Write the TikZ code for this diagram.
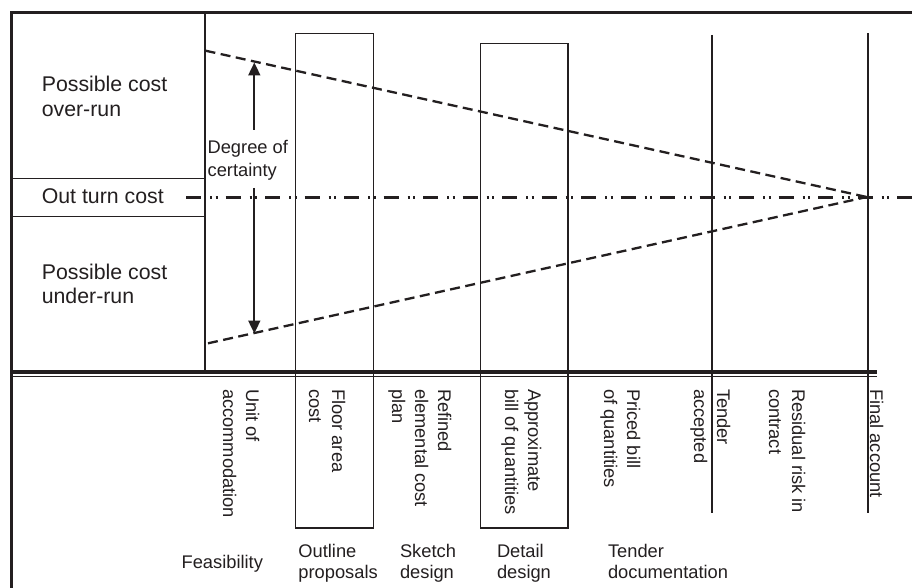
\documentclass[tikz,border=0pt]{standalone}
\usepackage{fontspec}
\setmainfont{Liberation Sans}
\usetikzlibrary{arrows.meta}
\definecolor{ink}{RGB}{35,31,32}
\begin{document}
\begin{tikzpicture}[x=1pt,y=-1pt,
  every node/.style={text=ink, inner sep=0pt, outer sep=0pt},
  frameline/.style={draw=ink, line width=3pt},
  thinline/.style={draw=ink, line width=1.5pt},
  markline/.style={draw=ink, line width=2.2pt},
  dashline/.style={draw=ink, line width=2.3pt, dash pattern=on 10pt off 5.5pt},
  axisline/.style={draw=ink, line width=2.3pt, dash pattern=on 15pt off 9pt on 2pt off 3.5pt on 2pt off 8pt},
  arrowline/.style={draw=ink, line width=1.8pt, -{Triangle[width=12pt,length=13pt]}},
  biglabel/.style={font=\fontsize{21.3}{24.5}\selectfont, align=left, anchor=base west},
  midlabel/.style={font=\fontsize{18.3}{22}\selectfont, align=left, anchor=base west},
  stagelabel/.style={font=\fontsize{18.3}{21}\selectfont, align=left, anchor=base west},
  rotlabel/.style={font=\fontsize{18.3}{23}\selectfont, align=left, anchor=base west, rotate=-90}]
\useasboundingbox (0,0) rectangle (912,588);
\fill[white] (0,0) rectangle (912,588);

% frame
\coordinate (tl) at (11.5,12.7);
\coordinate (tr) at (912,12.7);
\coordinate (bl) at (11.5,588);
\draw[frameline] (10,12.7) -- (tr);
\draw[frameline] (11.5,11.2) -- (bl);

% left column
\coordinate (colT) at (205,12.7);
\coordinate (colB) at (205,372);
\draw[thinline] (colT) -- (colB);
\draw[thinline] (11.5,178.3) -- (205,178.3);
\draw[thinline] (11.5,216.7) -- (205,216.7);

% double line
\draw[draw=ink, line width=4pt] (11.5,372) -- (877,372);
\draw[draw=ink, line width=1.3pt] (11.5,376.8) -- (877,376.8);

% boxes
\draw[thinline] (295.3,33.3) rectangle (373.5,528);
\draw[thinline] (480.5,43.3) rectangle (568,528);

% milestone lines
\draw[markline] (711.7,35) -- (711.7,512.7);
\draw[markline] (867.7,33.3) -- (867.7,512.7);

% cone
\coordinate (apex) at (866.7,197);
\coordinate (upS) at (205.5,50.7);
\coordinate (loS) at (208,343.3);
\draw[dashline] (upS) -- (apex);
\draw[dashline] (loS) -- (apex);

% axis line
\coordinate (axL) at (186,197.5);
\coordinate (axR) at (912,197.5);
\draw[axisline] (axL) -- (axR);

% degree of certainty
\node[midlabel] (deg) at (207.6,176) {Degree of\\certainty};
\coordinate (upA) at (254.3,130);
\coordinate (upT) at (254.3,62.5);
\coordinate (dnA) at (254.3,188);
\coordinate (dnT) at (254.3,333.5);
\draw[arrowline] (upA) -- (upT);
\draw[arrowline] (dnA) -- (dnT);

% left labels
\node[biglabel] (over) at (41.8,116.2) {Possible cost\\over-run};
\node[biglabel] (out) at (41.8,204) {Out turn cost};
\node[biglabel] (under) at (41.8,303.8) {Possible cost\\under-run};

% rotated labels (anchor on the last line's baseline)
\node[rotlabel] (unit) at (223,389) {Unit of\\accommodation};
\node[rotlabel] (floor) at (309,389) {Floor area\\cost};
\node[rotlabel] (refined) at (392,389) {Refined\\elemental cost\\plan};
\node[rotlabel] (approx) at (505,389) {Approximate\\bill of quantities};
\node[rotlabel] (priced) at (604,389) {Priced bill\\of quantities};
\node[rotlabel] (tacc) at (694,389) {Tender\\accepted};
\node[rotlabel] (resid) at (769,389) {Residual risk in\\contract};
\node[rotlabel] (final) at (870,389) {Final account};

% stage labels
\node[stagelabel] (feas) at (181.6,568) {Feasibility};
\node[stagelabel] (outline) at (298.4,578.7) {Outline\\proposals};
\node[stagelabel] (sketch) at (400,578.7) {Sketch\\design};
\node[stagelabel] (detail) at (497,578.7) {Detail\\design};
\node[stagelabel] (tdoc) at (608,578.7) {Tender\\documentation};
\end{tikzpicture}
\end{document}
